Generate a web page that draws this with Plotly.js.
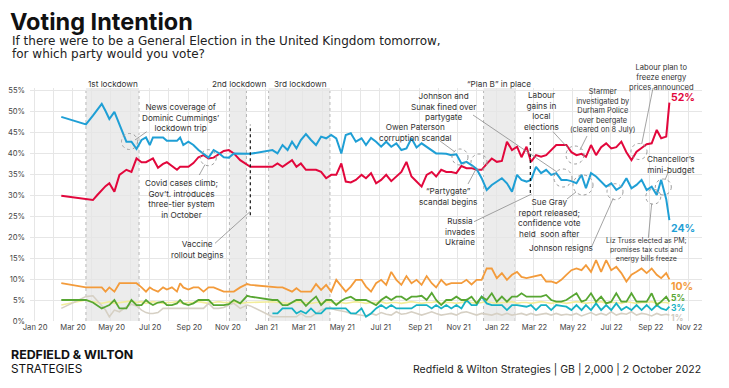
<!DOCTYPE html>
<html><head><meta charset="utf-8">
<script src="https://cdn.plot.ly/plotly-3.0.1.min.js"></script>
<style>html,body{margin:0;padding:0;background:#fff;}#chart{width:729px;height:388px;}</style>
</head><body><div id="chart"></div>
<script>
// ---------- DATA ----------
const pollDates = [
"2020-02-13","2020-03-23","2020-04-03","2020-04-10","2020-04-17","2020-04-23","2020-04-29","2020-05-07","2020-05-15","2020-05-26",
"2020-06-03","2020-06-11","2020-06-19","2020-06-26","2020-07-02","2020-07-07","2020-07-15","2020-07-23","2020-07-29","2020-08-06",
"2020-08-14","2020-08-19","2020-08-24","2020-09-01","2020-09-09","2020-09-17","2020-09-25","2020-10-03","2020-10-11","2020-10-19",
"2020-10-27","2020-11-04","2020-11-12","2020-11-22","2020-12-03","2020-12-08","2021-01-12","2021-01-20","2021-01-28","2021-02-05",
"2021-02-12","2021-02-19","2021-02-26","2021-03-06","2021-03-14","2021-03-22","2021-03-30","2021-04-07","2021-04-15","2021-04-23",
"2021-05-01","2021-05-08","2021-05-16","2021-05-24","2021-06-02","2021-06-09","2021-06-17","2021-06-25","2021-07-03","2021-07-11",
"2021-07-19","2021-07-27","2021-08-04","2021-08-12","2021-08-20","2021-08-28","2021-09-05","2021-09-13","2021-09-21","2021-09-28",
"2021-10-06","2021-10-14","2021-10-22","2021-10-30","2021-11-07","2021-11-15","2021-11-23","2021-12-01","2021-12-09","2021-12-17",
"2021-12-25","2022-01-02","2022-01-10","2022-01-18","2022-01-26","2022-02-03","2022-02-10","2022-02-18","2022-02-25","2022-03-05",
"2022-03-13","2022-03-21","2022-03-29","2022-04-06","2022-04-14","2022-04-22","2022-04-30","2022-05-08","2022-05-16","2022-05-23",
"2022-05-31","2022-06-08","2022-06-16","2022-06-24","2022-07-02","2022-07-10","2022-07-18","2022-07-26","2022-08-03","2022-08-11",
"2022-08-19","2022-08-27","2022-09-04","2022-09-12","2022-09-19","2022-09-27","2022-10-02"];

const conservative = [
48.6,46.8,48.9,50.3,51.7,50.0,48.1,49.8,46.8,42.7,
42.7,41.0,43.1,43.7,41.9,43.7,43.7,43.7,42.9,42.9,
42.9,43.7,41.9,42.7,41.9,40.7,39.8,38.9,40.7,40.0,
39.0,38.9,39.9,39.9,39.9,39.8,40.7,39.9,41.9,40.7,
42.7,41.1,43.1,44.5,43.1,41.9,43.9,43.5,44.3,43.5,
39.9,44.3,44.7,42.7,43.5,41.9,43.6,42.7,41.5,42.7,
41.5,42.3,40.7,41.1,43.5,41.3,42.3,41.4,40.5,39.9,
39.9,39.8,39.5,39.7,37.5,37.9,37.1,36.2,34.0,31.2,
32.4,33.2,34.0,32.8,30.8,34.8,33.6,33.2,33.6,36.7,
35.2,36.0,34.8,35.2,33.6,33.6,33.3,32.8,34.8,31.6,
35.2,34.4,33.2,32.0,32.8,31.2,32.0,34.0,31.6,32.4,
33.6,31.2,32.0,30.0,33.6,29.0,24.0];

const labour = [
29.8,29.0,28.8,30.0,31.2,32.1,32.8,30.8,34.8,36.0,
35.5,38.7,37.8,37.8,38.3,38.7,36.5,37.4,37.8,36.9,
36.0,36.7,36.7,36.7,37.6,39.0,39.5,38.7,38.9,39.8,
40.5,40.7,39.9,38.3,37.1,36.7,36.7,37.5,36.7,37.5,
38.3,36.7,37.5,36.0,36.0,36.0,35.5,34.0,34.8,34.8,
37.5,33.2,33.0,33.6,34.8,34.0,35.2,32.8,33.6,34.8,
33.3,34.4,35.5,37.9,34.4,33.2,32.0,34.8,35.5,34.4,
36.0,35.5,35.5,35.2,36.9,36.4,36.4,36.0,36.0,37.4,
38.7,37.9,38.1,42.7,40.7,41.5,39.0,41.5,37.9,39.5,
39.1,39.5,40.7,41.9,41.9,41.9,40.2,39.5,39.8,39.1,
41.9,39.5,41.4,42.3,41.1,41.4,42.7,40.2,38.3,40.3,
41.2,42.1,42.3,45.5,43.5,43.9,52.0];

const libDem = [
9.0,8.0,8.0,8.0,8.0,7.0,8.0,7.0,9.0,9.0,
9.0,9.0,8.0,7.0,8.0,7.5,7.0,8.0,7.5,8.0,
7.0,9.0,8.0,7.5,8.0,8.0,7.0,8.0,8.0,7.5,
7.0,7.0,7.0,8.0,8.8,8.6,8.0,8.0,8.0,7.5,
7.0,7.8,7.0,7.0,7.0,8.8,7.4,8.6,7.0,9.8,
8.2,7.0,8.2,9.8,9.8,8.2,7.0,9.0,9.8,8.6,
11.7,9.8,8.6,10.7,9.0,9.8,8.6,10.7,9.0,8.0,
9.8,8.6,9.0,9.0,9.0,9.8,8.7,9.8,9.8,12.5,
12.5,10.2,11.4,9.8,11.0,11.7,10.5,10.2,10.5,10.8,
11.0,9.4,9.4,9.0,9.8,11.0,12.1,12.5,12.1,13.3,
11.7,14.5,11.7,14.5,12.1,12.9,11.4,9.4,11.0,11.7,
12.5,11.4,12.5,11.0,10.2,11.4,9.9];

const green = [
5.0,5.0,4.4,3.6,3.0,3.4,3.8,5.0,3.0,3.0,
5.0,3.8,3.8,5.0,4.2,3.8,4.4,4.6,3.8,3.8,
4.2,5.0,4.2,3.8,4.2,5.0,5.0,5.0,3.8,3.8,
3.8,4.0,5.0,4.2,6.0,5.8,5.0,5.0,3.8,3.8,
4.4,5.0,5.0,3.6,4.8,5.8,3.8,5.0,5.0,3.8,
4.8,5.4,5.8,5.0,5.0,5.0,4.4,3.8,5.0,5.8,
5.0,5.8,5.8,5.0,5.8,5.8,6.0,5.0,6.7,5.0,
3.8,5.0,5.0,5.8,5.0,5.0,5.8,4.2,5.8,5.0,
6.6,4.6,5.8,4.6,5.8,5.8,6.6,5.8,5.8,5.8,
5.8,6.2,5.0,4.6,4.6,5.0,5.8,6.6,4.6,5.0,
6.6,4.6,5.8,4.2,4.6,6.6,4.6,4.6,6.6,4.6,
4.6,4.6,6.6,3.8,4.6,5.8,4.6];

const reform = [
null,null,null,null,null,null,null,null,null,null,
null,null,null,null,null,null,null,null,null,null,
null,null,null,null,null,null,null,null,null,null,
null,null,null,null,null,null,1.8,1.8,3.0,3.0,
3.0,1.8,2.4,1.8,3.0,1.8,1.8,3.0,3.0,3.0,
3.0,3.0,1.8,1.8,3.0,1.0,1.8,3.0,3.8,3.0,
3.8,3.0,3.0,3.0,3.0,3.8,3.8,3.8,3.0,3.8,
3.0,3.8,3.0,3.8,3.0,5.0,3.8,3.8,5.8,4.2,
3.8,3.8,3.8,2.6,3.8,3.8,3.6,3.4,3.8,2.6,
3.8,3.8,2.6,3.8,3.6,3.4,2.6,3.8,2.6,3.8,
2.6,4.2,2.6,3.8,2.6,4.2,2.6,3.4,2.6,3.8,
2.6,3.8,2.6,3.8,3.0,2.6,3.4];

const other = [
3.0,5.8,6.0,4.8,3.6,2.6,1.0,2.6,2.2,3.4,
4.0,3.6,2.6,2.0,1.8,1.8,2.0,3.0,3.0,3.0,
3.0,3.0,3.0,3.0,3.0,3.0,3.0,4.2,3.0,3.0,
3.2,3.8,4.2,3.0,3.8,3.6,1.0,1.0,1.0,1.0,
1.0,1.0,1.8,1.0,1.0,1.8,2.6,3.0,3.0,2.6,
2.4,2.2,1.8,1.6,1.2,1.2,1.8,1.4,2.0,1.6,
1.4,2.2,1.6,1.8,2.2,1.8,1.4,1.8,2.2,1.8,
1.4,1.6,1.8,1.4,2.0,2.2,1.8,1.4,1.8,1.6,
1.4,1.8,1.4,1.8,1.4,1.6,1.8,1.4,1.8,1.4,
1.6,1.8,1.4,1.8,1.4,1.6,1.4,1.8,1.2,1.6,
2.0,1.4,1.8,1.4,2.2,1.4,1.8,1.6,2.2,1.4,
1.8,1.6,1.2,1.8,1.4,1.6,1.4];

const snp = [
3.8,5.0,4.6,4.4,4.2,4.4,4.6,4.2,4.4,4.6,
4.8,4.4,4.6,4.2,4.4,4.6,4.4,4.2,4.4,4.4,
4.6,4.4,4.2,4.4,4.4,4.6,4.4,4.2,4.4,4.6,
4.4,4.4,4.6,4.2,4.4,4.4,4.6,4.4,4.4,4.2,
4.4,4.6,4.4,4.4,4.2,4.4,4.4,4.6,4.4,4.2,
4.4,4.2,4.4,4.6,4.4,4.2,4.4,4.4,4.6,4.2,
4.4,4.4,4.2,4.4,4.6,4.4,4.2,4.4,4.4,4.6,
4.2,4.4,4.4,4.2,4.4,4.6,4.4,4.2,4.4,4.6,
4.4,4.2,4.4,4.4,4.6,4.2,4.4,4.4,4.2,4.4,
4.6,4.4,4.2,4.4,4.4,4.2,4.4,4.6,4.4,4.2,
4.4,4.4,4.6,4.2,4.4,4.4,4.2,4.6,4.4,4.2,
4.4,4.4,4.6,4.2,4.4,4.4,4.2];

const endLabels = ["52%","24%","10%","5%","3%","1%"];

// shaded periods and event lines
const periods = [
  {name:"1st lockdown", start:"2020-03-23", end:"2020-06-15"},
  {name:"2nd lockdown", start:"2020-11-05", end:"2020-12-02"},
  {name:"3rd lockdown", start:"2021-01-06", end:"2021-04-13"},
  {name:"\u201cPlan B\u201d in place", start:"2021-12-12", end:"2022-01-31"}
];
const eventLines = [
  {date:"2020-12-08", from:25.2, to:46.7},
  {date:"2022-02-24", from:30.5, to:43.8}
];

// ---------- STYLE ----------
const FONT = "Inter, Open Sans, sans-serif";
const WIDE = "DejaVu Sans, Inter, sans-serif";
const C = {con:"#1f9fd5", lab:"#e2073c", ld:"#f39b3b", grn:"#57a632", ref:"#17b2c4", oth:"#d6d0c4", snp:"#f3ed9a"};

// page-pixel helpers (plot area)
const L=30, R=702, T=88, B=321;
const fx = x => (x-L)/(R-L);
const fy = y => (B-y)/(B-T);

const traces = [
  {y:snp, color:C.snp, w:1.6},
  {y:other, color:C.oth, w:1.6},
  {y:reform, color:C.ref, w:1.8},
  {y:green, color:C.grn, w:1.8},
  {y:libDem, color:C.ld, w:1.8},
  {y:labour, color:C.lab, w:2},
  {y:conservative, color:C.con, w:2}
].map(s => ({type:'scatter', mode:'lines', x:pollDates, y:s.y, line:{color:s.color, width:s.w}, hoverinfo:'skip', connectgaps:false}));

const shapes = [];
const annotations = [];

periods.forEach(p => {
  shapes.push({type:'rect', xref:'x', yref:'paper', x0:p.start, x1:p.end, y0:0, y1:1, fillcolor:'#ececec', line:{width:0}, layer:'below'});
  [p.start, p.end].forEach(d => shapes.push({type:'line', xref:'x', yref:'paper', x0:d, x1:d, y0:0, y1:1, line:{color:'#b8b8b8', width:1, dash:'dot'}, layer:'below'}));
});
eventLines.forEach(e => shapes.push({type:'line', xref:'x', yref:'y', x0:e.date, x1:e.date, y0:e.from, y1:e.to, line:{color:'#111', width:1.2, dash:'dot'}}));

function lead(x0,y0,x1,y1){ shapes.push({type:'line', xref:'paper', yref:'paper', x0:fx(x0), y0:fy(y0), x1:fx(x1), y1:fy(y1), line:{color:'#8c8c8c', width:0.8}}); }
function ring(cx,cy,r){ shapes.push({type:'circle', xref:'paper', yref:'paper', x0:fx(cx-r), x1:fx(cx+r), y0:fy(cy+r), y1:fy(cy-r), line:{color:'#9c9c9c', width:1, dash:'dot'}}); }
// lines: array of text lines; (x, yMid) = page-pixel centre of the block
function note(lines, x, yMid, opt){
  opt = opt||{};
  annotations.push({xref:'paper', yref:'paper', x:fx(x), y:fy(yMid), text:lines.join('<br>'), showarrow:false,
    xanchor:opt.anchor||'center', yanchor:'middle', align:opt.align||'center', borderpad:0,
    font:{family:opt.family||FONT, size:opt.size||8.2, color:opt.color||'#333', weight:opt.weight||400}});
}

// period labels
note([periods[0].name],113,84); note([periods[1].name],239,84); note([periods[2].name],300,84); note([periods[3].name],499,84);

// event notes
note(["News coverage of","Dominic Cummings\u2019","lockdown trip"],180,117.3);
lead(135,140,146.7,131.7); ring(129.5,141.5,8);
note(["Covid cases climb;","Gov\u2019t. introduces","three-tier system","in October"],181,198.5);
lead(199.3,175,205,164.5); ring(208.3,157.7,8);
note(["Vaccine","rollout begins"],197,249.3);
lead(215,243.3,250,211.7);
note(["Johnson and","Sunak fined over","partygate"],443,106.7);
lead(473,115,557,172); ring(563,178,9);
note(["Owen Paterson","corruption scandal"],415,132.5);
lead(440,141,455,152); ring(460,157,8);
note(["\u201cPartygate\u201d","scandal begins"],448,196.3);
lead(468,184,476,169); ring(479,162,8);
note(["Russia","invades","Ukraine"],460,231.3);
lead(474,221.7,531.7,194);
note(["Labour","gains in","local","elections"],541.7,111.3);
lead(553,131.7,568,148); ring(575,155,9);
note(["Starmer","investigated by","Durham Police","over beergate","(cleared on 8 July)"],603,110.5,{size:7.4});
lead(587,136,580,150);
note(["Labour plan to","freeze energy","prices announced"],661.7,77.3,{size:7.6});
lead(653,88,641.7,144); ring(639,151.5,8);
note(["Chancellor\u2019s","mini-budget"],671,164.2);
lead(668.3,172,665,180); ring(663.3,187,8);
note(["Sue Gray","report released;","confidence vote","held  soon after"],549,218.3);
lead(567,199,576,192); ring(583,185,10);
note(["Johnson resigns"],561,247.7);
lead(591.7,246.7,613.3,198); ring(615,191.7,8);
note(["Liz Truss elected as PM;","promises tax cuts and","energy bills freeze"],646,249.2,{size:7});
lead(648.3,238,651.7,203.5); ring(653.3,196.7,7.5);

// end labels
const endColors = [C.lab, C.con, C.ld, C.grn, C.ref, "#cfcac0"];
const endYs = [97.3, 228.5, 286.7, 298.3, 308.2, 318.2];
const endSizes = [10.5, 10.5, 10.5, 8.5, 8.5, 8.5];
endLabels.forEach((t,i)=> note([t], 670, endYs[i], {anchor:'left', size:endSizes[i], color:endColors[i], weight:700}));

// subtitle & footer
note(["If there were to be a General Election in the United Kingdom tomorrow,"], 11, 40.7, {anchor:'left', size:12, color:'#222', family:WIDE});
note(["for which party would you vote?"], 11, 54.4, {anchor:'left', size:12, color:'#222', family:WIDE});
note(["REDFIELD & WILTON"], 10, 354.8, {anchor:'left', size:12.4, color:'#111', weight:700});
note(["STRATEGIES"], 10, 369.2, {anchor:'left', size:11.8, color:'#111'});
note(["Redfield & Wilton Strategies | GB | 2,000 | 2 October 2022"], 702, 369, {anchor:'right', size:10.5, color:'#222'});

const layout = {
  width:729, height:388,
  margin:{l:L, r:729-R, t:T, b:388-B, pad:0},
  paper_bgcolor:'#fff', plot_bgcolor:'#fff',
  showlegend:false, hovermode:false,
  title:{text:'<b>Voting Intention</b>', x:10/729, xref:'container', xanchor:'left', y:1-22/388, yref:'container', yanchor:'middle',
         font:{family:FONT, size:23.5, color:'#111'}},
  xaxis:{type:'date', range:['2019-12-25 12:00','2022-11-22 14:00'], tickmode:'linear', tick0:'2020-01-01', dtick:'M2', tickformat:'%b %y',
         showgrid:true, gridcolor:'#e6e6e6', gridwidth:1, zeroline:false, showline:false, ticks:'',
         minor:{tickmode:'linear', tick0:'2020-01-01', dtick:'M1', showgrid:true, gridcolor:'#e6e6e6', gridwidth:1},
         tickfont:{family:FONT, size:7.6, color:'#444'}, ticklabelstandoff:0, ticklabelshift:1},
  yaxis:{range:[0,55.48], tickmode:'linear', tick0:0, dtick:5, ticksuffix:'%', showgrid:true, gridcolor:'#e6e6e6', gridwidth:1,
         zeroline:false, showline:false, ticks:'', tickfont:{family:FONT, size:7.6, color:'#444'}, ticklabelstandoff:4},
  shapes:shapes, annotations:annotations
};

Plotly.newPlot('chart', traces, layout, {displayModeBar:false, staticPlot:true});
</script></body></html>
